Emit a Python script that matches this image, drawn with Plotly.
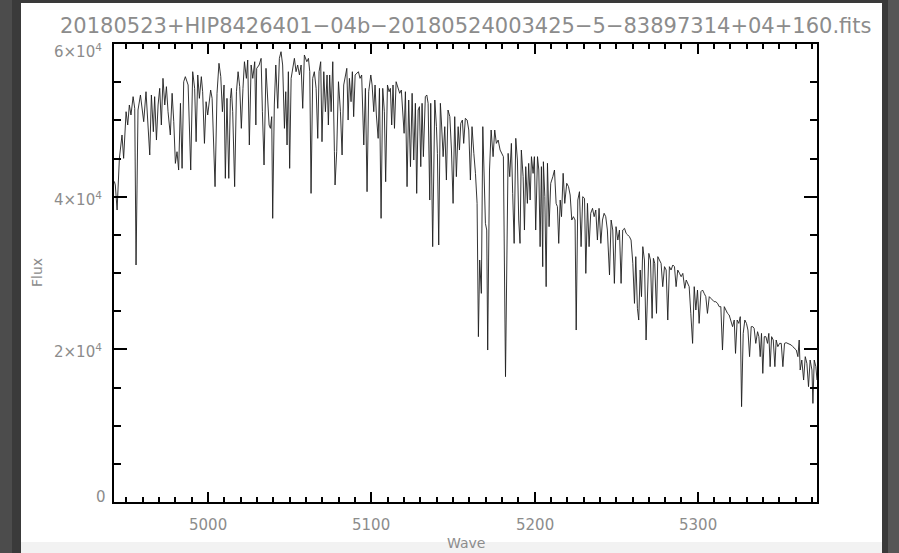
import plotly.graph_objects as go

TITLE = "20180523+HIP8426401−04b−20180524003425−5−83897314+04+160.fits"

wave = [
    4942.6, 4943.2, 4944.3, 4945.7, 4947.3, 4948.3, 4949.8, 4950.8, 4951.8, 4952.8,
    4954.1, 4955.1, 4955.9, 4957.1, 4958.6, 4960.6, 4962.0, 4963.3, 4964.3, 4965.3,
    4966.5, 4967.3, 4968.4, 4969.4, 4970.4, 4971.4, 4972.4, 4973.5, 4974.5, 4975.5,
    4976.9, 4978.0, 4979.0, 4980.0, 4981.0, 4982.0, 4983.1, 4984.1, 4985.1, 4986.1,
    4987.8, 4989.4, 4990.6, 4991.8, 4992.7, 4993.7, 4994.7, 4995.9, 4996.7, 4997.8,
    4998.8, 4999.8, 5000.8, 5001.6, 5002.5, 5004.3, 5005.5, 5006.7, 5007.8, 5008.8,
    5009.8, 5010.6, 5011.6, 5012.7, 5013.7, 5014.3, 5015.1, 5016.3, 5017.4, 5018.4,
    5019.4, 5020.4, 5021.4, 5022.3, 5023.5, 5024.3, 5025.3, 5026.4, 5027.4, 5028.6,
    5029.3, 5029.8, 5031.3, 5032.5, 5033.3, 5034.3, 5035.5, 5036.6, 5037.4, 5038.2,
    5039.0, 5039.6, 5040.6, 5041.5, 5042.7, 5043.7, 5044.7, 5045.7, 5046.8, 5047.6,
    5048.4, 5049.2, 5050.0, 5050.9, 5051.9, 5052.9, 5053.9, 5054.9, 5056.0, 5057.0,
    5058.0, 5059.0, 5060.5, 5061.5, 5062.3, 5063.1, 5064.1, 5065.1, 5066.2, 5067.2,
    5068.0, 5069.0, 5069.8, 5070.9, 5071.9, 5072.9, 5073.7, 5074.5, 5075.4, 5076.4,
    5077.4, 5077.8, 5078.8, 5079.9, 5081.1, 5082.1, 5083.1, 5085.0, 5085.8, 5086.6,
    5087.6, 5088.4, 5089.2, 5090.1, 5092.1, 5093.1, 5094.1, 5095.4, 5096.4, 5097.4,
    5098.4, 5099.7, 5100.5, 5101.5, 5102.3, 5103.1, 5104.2, 5105.0, 5106.0, 5107.0,
    5108.0, 5108.8, 5109.9, 5110.9, 5111.7, 5112.5, 5113.3, 5114.2, 5115.2, 5116.2,
    5117.4, 5118.4, 5119.5, 5120.1, 5120.9, 5121.9, 5122.9, 5124.0, 5125.0, 5126.0,
    5127.0, 5127.8, 5128.7, 5129.5, 5130.3, 5131.1, 5131.9, 5133.1, 5134.0, 5134.8,
    5135.8, 5136.4, 5137.6, 5138.9, 5139.9, 5140.5, 5141.3, 5142.3, 5142.9, 5144.0,
    5145.0, 5146.0, 5147.0, 5148.1, 5149.1, 5150.1, 5151.1, 5152.1, 5153.2, 5154.0,
    5154.8, 5155.8, 5156.6, 5157.6, 5158.7, 5159.7, 5160.7, 5161.7, 5162.8, 5163.8,
    5164.8, 5165.6, 5166.4, 5167.4, 5168.3, 5169.1, 5169.9, 5170.7, 5171.3, 5172.4,
    5173.4, 5174.6, 5175.6, 5176.6, 5177.7, 5178.9, 5179.7, 5180.9, 5182.2, 5183.0,
    5183.8, 5184.8, 5185.8, 5186.6, 5187.5, 5188.5, 5189.5, 5190.3, 5191.1, 5191.9,
    5193.0, 5193.8, 5194.6, 5195.6, 5196.4, 5197.3, 5198.1, 5199.1, 5199.9, 5200.7,
    5201.8, 5202.6, 5203.4, 5204.2, 5205.0, 5205.4, 5206.3, 5207.1, 5207.9, 5208.9,
    5209.9, 5211.2, 5212.2, 5213.2, 5214.0, 5214.8, 5215.7, 5216.5, 5217.5, 5218.5,
    5219.7, 5220.8, 5221.8, 5222.8, 5223.8, 5224.8, 5225.5, 5226.5, 5227.5, 5228.5,
    5229.5, 5230.6, 5231.4, 5232.4, 5233.4, 5234.4, 5235.5, 5236.5, 5237.5, 5238.5,
    5239.5, 5240.6, 5241.6, 5242.6, 5243.6, 5244.6, 5245.9, 5246.9, 5247.9, 5248.9,
    5249.9, 5251.0, 5252.0, 5253.0, 5254.0, 5255.1, 5256.1, 5257.1, 5258.1, 5259.1,
    5260.2, 5261.2, 5262.0, 5263.0, 5263.8, 5264.7, 5265.5, 5266.3, 5267.3, 5268.3,
    5269.2, 5270.0, 5271.0, 5272.0, 5272.8, 5273.6, 5274.7, 5275.5, 5276.5, 5277.5,
    5278.5, 5279.6, 5280.6, 5281.6, 5282.6, 5283.6, 5284.7, 5285.7, 5286.7, 5287.7,
    5288.8, 5289.8, 5290.8, 5292.0, 5292.9, 5293.7, 5294.7, 5295.7, 5296.8, 5297.8,
    5298.8, 5299.8, 5300.8, 5301.9, 5302.9, 5303.9, 5304.9, 5305.9, 5307.0, 5308.0,
    5309.0, 5310.0, 5311.0, 5312.1, 5313.1, 5314.1, 5315.1, 5316.2, 5317.2, 5318.2,
    5319.2, 5320.2, 5321.3, 5322.3, 5323.1, 5324.1, 5325.1, 5326.0, 5326.8, 5327.8,
    5328.8, 5329.8, 5330.7, 5331.7, 5332.7, 5333.7, 5334.5, 5335.5, 5336.6, 5337.4,
    5338.2, 5339.0, 5339.8, 5340.7, 5341.7, 5342.7, 5343.5, 5344.3, 5345.2, 5346.2,
    5347.2, 5348.0, 5349.0, 5350.1, 5351.1, 5352.1, 5353.1, 5354.1, 5355.2, 5356.2,
    5357.2, 5358.2, 5359.2, 5360.3, 5361.3, 5362.1, 5362.7, 5363.7, 5364.8, 5365.8,
    5366.8, 5367.8, 5368.8, 5369.9, 5370.5, 5371.3, 5372.3, 5373.0,
]

flux = [
    42000, 41530, 38250, 45020, 48080, 45020, 51130, 49390, 52010, 50700,
    53100, 51570, 31050, 51350, 53320, 49820, 53750, 49390, 45460, 53320,
    48510, 53100, 47420, 52010, 54190, 49390, 55500, 52010, 54410, 51130,
    48080, 53540, 49820, 44360, 45890, 43490, 52230, 43710, 55060, 55720,
    54630, 43490, 56370, 54190, 47200, 55940, 52880, 55720, 53750, 46980,
    52440, 50700, 52230, 53970, 52880, 41310, 53540, 57470, 55720, 51130,
    54630, 42400, 52880, 42400, 52880, 54190, 51130, 41310, 53750, 56370,
    54410, 48950, 54190, 57680, 55500, 57900, 46770, 57250, 55500, 57680,
    49390, 56810, 57250, 58120, 51130, 44150, 56810, 53320, 49390, 48950,
    50480, 37160, 52010, 57250, 51570, 58120, 58990, 57250, 48950, 53750,
    46770, 56370, 43710, 55500, 56810, 58120, 56370, 57250, 55940, 57250,
    51570, 58560, 57680, 58120, 56370, 40430, 55500, 56370, 54190, 47640,
    56370, 57680, 47200, 56370, 51130, 55940, 49390, 55940, 51130, 57680,
    45890, 41530, 45890, 55060, 51130, 45460, 54630, 56810, 50040, 55500,
    52440, 56370, 50480, 55940, 56370, 55500, 55940, 46770, 54190, 40650,
    53750, 55940, 54630, 51130, 54630, 50700, 47640, 54190, 37160, 54190,
    51130, 41960, 54630, 53750, 54190, 49390, 54630, 48950, 55060, 54190,
    53540, 53970, 50480, 48300, 53750, 41310, 52660, 43930, 53540, 44800,
    52230, 40430, 51350, 51790, 43930, 52230, 45240, 53100, 53320, 52230,
    39560, 52230, 33450, 52660, 49170, 45670, 33670, 52230, 50040, 45240,
    49170, 42180, 51350, 50480, 46110, 39120, 50480, 42620, 49170, 46110,
    49610, 50040, 46980, 50260, 50040, 48730, 42180, 49170, 45670, 43050,
    39120, 21660, 31700, 27330, 49170, 43490, 36500, 35630, 19910, 43490,
    48730, 45240, 48730, 46980, 47420, 46110, 45670, 45240, 16420, 36070,
    45670, 42620, 46980, 40430, 33880, 47640, 44800, 36940, 33880, 46110,
    42620, 35630, 43930, 39120, 44360, 39560, 45240, 43050, 45240, 35630,
    45240, 43490, 33450, 43930, 30830, 44580, 40000, 28210, 44370, 36070,
    41750, 42620, 43490, 39120, 38690, 33880, 39560, 37380, 43060, 39120,
    41750, 41310, 40220, 36940, 37380, 36940, 22530, 39560, 40650, 33450,
    40000, 39780, 29950, 39120, 33450, 37820, 38470, 37380, 38250, 34320,
    38470, 33880, 36940, 37820, 37380, 35630, 29740, 36940, 35630, 28640,
    36070, 34320, 35630, 28640, 35630, 35850, 35190, 34980, 34760, 34320,
    31260, 26020, 32140, 25370, 23840, 30390, 26900, 33450, 31700, 21220,
    28210, 32570, 31700, 24060, 31920, 31260, 24710, 32140, 31700, 31260,
    28210, 30830, 30390, 23840, 30830, 30390, 31050, 30830, 28210, 30390,
    29950, 29520, 29950, 27990, 29080, 28650, 28210, 24710, 20780, 28210,
    25150, 27770, 23400, 27550, 27770, 27330, 26900, 24710, 26900, 26680,
    26460, 26240, 26240, 26020, 25590, 25590, 19910, 25590, 25150, 24710,
    24500, 23840, 22970, 23840, 19470, 23840, 23400, 24280, 12490, 22090,
    23840, 23400, 22530, 19040, 22970, 22970, 22750, 20780, 22310, 21660,
    19040, 22090, 16850, 21660, 21660, 20780, 22090, 17730, 21660, 21220,
    17730, 21220, 20350, 20780, 20780, 17730, 20780, 20870, 20780, 20700,
    20570, 20350, 20130, 19910, 19040, 21220, 17290, 18600, 15980, 19040,
    18160, 15110, 18600, 17290, 12920, 18600, 17730, 15980,
]

x_range = [4942.4, 5373.0]
y_range = [0, 60000]
x_tick_vals = [5000, 5100, 5200, 5300]
x_tick_text = ["5000", "5100", "5200", "5300"]
y_tick_vals = [0, 20000, 40000, 60000]
y_tick_text = ["0", "2×10<sup>4</sup>", "4×10<sup>4</sup>", "6×10<sup>4</sup>"]
y_label_shift = [5, -2, -2, -7]
y_label_xshift = [-6, -10, -10, -10]

GRAY = "#8c8c8c"
FONT = "DejaVu Sans ExtraLight, DejaVu Sans"

fig = go.Figure()
fig.add_trace(go.Scatter(x=wave, y=flux, mode="lines",
                         line=dict(color="#1e1e1e", width=0.9), hoverinfo="skip"))

W, H = 899, 553
L, R, T, B = 114, 82, 44, 51
pw, ph = W - L - R, H - T - B


def px(xp):
    return (xp - L) / pw


def py(yp):
    return (H - B - yp) / ph


shapes = [
    dict(type="rect", xref="paper", yref="paper", x0=px(0), x1=px(12), y0=py(553), y1=py(0),
         fillcolor="#4c4c4c", line_width=0, layer="below"),
    dict(type="rect", xref="paper", yref="paper", x0=px(888), x1=px(899), y0=py(553), y1=py(0),
         fillcolor="#565656", line_width=0, layer="below"),
    dict(type="rect", xref="paper", yref="paper", x0=px(21), x1=px(882), y0=py(542), y1=py(3),
         fillcolor="white", line_width=0, layer="below"),
    dict(type="rect", xref="paper", yref="paper", x0=px(21), x1=px(882), y0=py(553), y1=py(542),
         fillcolor="#f2f2f2", line_width=0, layer="below"),
]

annotations = [
    dict(text=TITLE, xref="paper", yref="paper", x=0.5, y=py(26), xanchor="center",
         yanchor="middle", showarrow=False, font=dict(family=FONT, size=21, color=GRAY)),
    dict(text="Wave", xref="paper", yref="paper", x=0.5, y=py(543), xanchor="center",
         yanchor="middle", showarrow=False, font=dict(family=FONT, size=14, color=GRAY)),
    dict(text="Flux", xref="paper", yref="paper", x=px(37), y=0.5, xanchor="center",
         yanchor="middle", textangle=-90, showarrow=False,
         font=dict(family=FONT, size=14, color=GRAY)),
]
for v, t in zip(x_tick_vals, x_tick_text):
    annotations.append(dict(text=t, xref="x", yref="paper", x=v, y=0, yanchor="top",
                            xanchor="center", yshift=-12, showarrow=False,
                            font=dict(family=FONT, size=15, color=GRAY)))
for v, t, ys, xs in zip(y_tick_vals, y_tick_text, y_label_shift, y_label_xshift):
    annotations.append(dict(text=t, xref="paper", yref="y", x=0, y=v, xanchor="right",
                            yanchor="middle", xshift=xs, yshift=ys, showarrow=False,
                            font=dict(family=FONT, size=15, color=GRAY)))

fig.update_layout(
    width=W, height=H,
    margin=dict(l=L, r=R, t=T, b=B, pad=0),
    paper_bgcolor="#3a3a3a",
    plot_bgcolor="white",
    showlegend=False,
    shapes=shapes,
    annotations=annotations,
)
fig.update_xaxes(range=x_range, showgrid=False, zeroline=False, showline=True,
                 linecolor="black", linewidth=2, mirror="ticks", ticks="inside",
                 tickmode="array", tickvals=x_tick_vals, ticklen=10, tickwidth=1.5,
                 tickcolor="black", showticklabels=False,
                 minor=dict(ticks="inside", dtick=10, tick0=5000, ticklen=5,
                            tickwidth=1.5, tickcolor="black", showgrid=False))
fig.update_yaxes(range=y_range, showgrid=False, zeroline=False, showline=True,
                 linecolor="black", linewidth=2, mirror="ticks", ticks="inside",
                 tickmode="array", tickvals=y_tick_vals, ticklen=13, tickwidth=1.5,
                 tickcolor="black", showticklabels=False,
                 minor=dict(ticks="inside", dtick=5000, tick0=0, ticklen=7,
                            tickwidth=1.5, tickcolor="black", showgrid=False))

fig.write_html("out.html")
